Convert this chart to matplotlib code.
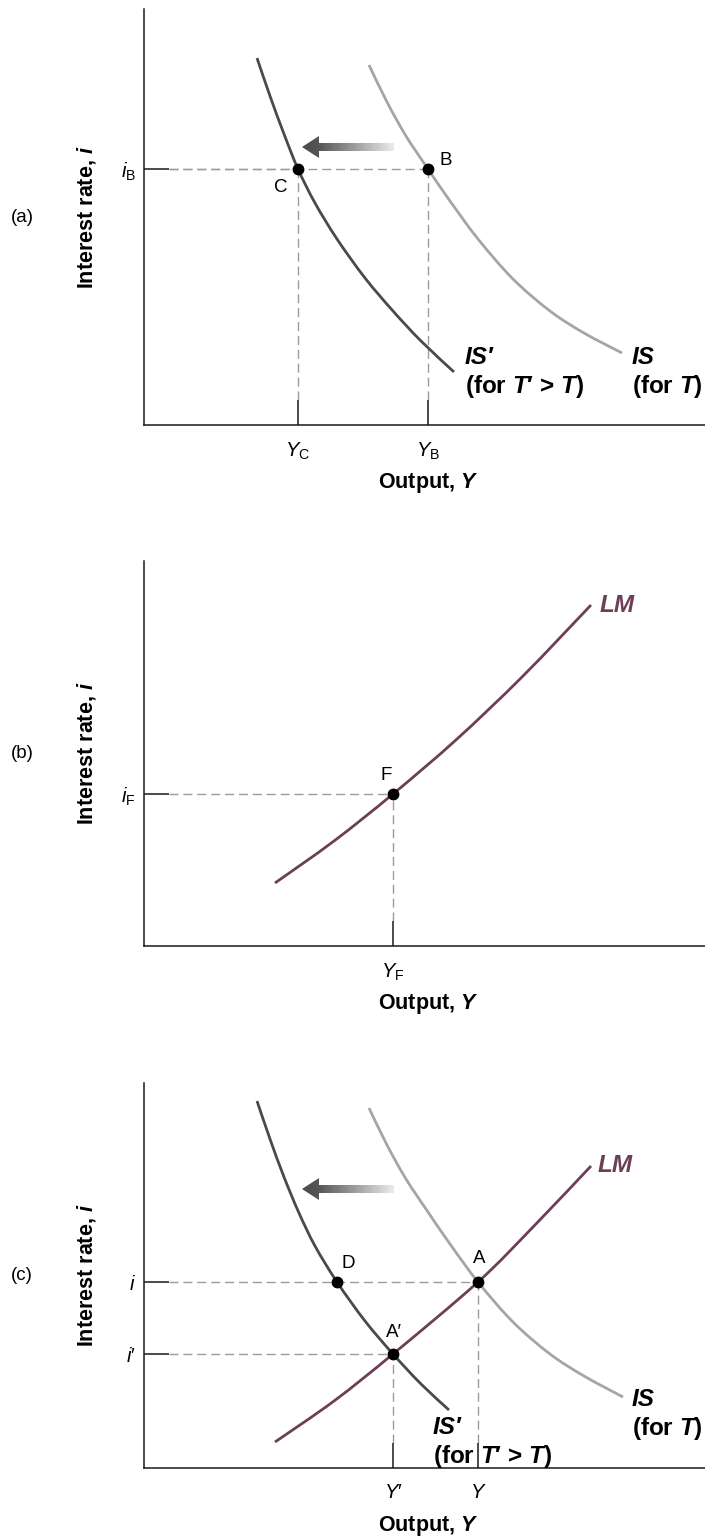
import matplotlib as mpl

mpl.use("Agg")
import matplotlib.pyplot as plt
import numpy as np
from matplotlib.colors import LinearSegmentedColormap
from matplotlib.patches import Polygon, PathPatch
from matplotlib.path import Path
from matplotlib.transforms import offset_copy

plt.rcParams["font.family"] = ["Liberation Sans", "DejaVu Sans"]
plt.rcParams["mathtext.fontset"] = "custom"
plt.rcParams["mathtext.rm"] = "Liberation Sans"
plt.rcParams["mathtext.it"] = "Liberation Sans:italic"
plt.rcParams["mathtext.bf"] = "Liberation Sans:bold"
plt.rcParams["mathtext.bfit"] = "Liberation Sans:bold:italic"

# ---- data (output Y, interest rate i) ----
# panel (a): IS shifts left
is_new_a_Y = [113, 126, 140, 154, 171, 193, 221, 249, 277, 310]
is_new_a_i = [367, 329, 291, 256, 222, 186, 147, 114, 84, 53]
is_old_a_Y = [225, 243, 262, 284, 306, 334, 369, 406, 440, 478]
is_old_a_i = [360, 323, 289, 256, 224, 186, 146, 114, 92, 72]
points_a = {"C": (154, 256), "B": (284, 256)}
xticks_a = [154, 284]
xticklabels_a = [r"$Y_{\mathrm{C}}$", r"$Y_{\mathrm{B}}$"]
yticks_a = [256]
yticklabels_a = [r"$i_{\mathrm{B}}$"]

# panel (b): LM curve
lm_b_Y = [131, 190, 249, 313, 379, 447]
lm_b_i = [63, 105, 152, 207, 270, 341]
points_b = {"F": (249, 152)}
xticks_b = [249]
xticklabels_b = [r"$Y_{\mathrm{F}}$"]
yticks_b = [152]
yticklabels_b = [r"$i_{\mathrm{F}}$"]

# panel (c): IS-LM after tax increase
is_new_c_Y = [113, 126, 140, 155, 171, 193, 221, 249, 277, 305]
is_new_c_i = [367, 329, 291, 255, 222, 186, 147, 114, 84, 58]
is_old_c_Y = [225, 243, 262, 284, 306, 334, 369, 406, 440, 479]
is_old_c_i = [360, 323, 289, 256, 224, 186, 146, 114, 92, 71]
lm_c_Y = [131, 190, 249, 334, 390, 447]
lm_c_i = [26, 67, 114, 186, 242, 302]
points_c = {"D": (193, 186), "A": (334, 186), "A\u2032": (249, 114)}
guides_c = ["A", "A\u2032"]
xticks_c = [249, 334]
xticklabels_c = ["$Y\u2032$", "$Y$"]
yticks_c = [186, 114]
yticklabels_c = ["$i$", "$i\u2032$"]

# ---- style ----
W, H = 705, 1539
AX_LEFT = 144
TICK = 25  # tick length in px (data units are px)
C_NEW = "#4a4a4a"
C_OLD = "#a5a5a5"
C_LM = "#6c3f56"
C_GUIDE = "#9c9c9c"
C_AXIS = "#1a1a1a"

arrow_cmap = LinearSegmentedColormap.from_list(
    "shift", [(0.0, "#4c4c4c"), (0.18, "#555555"), (1.0, "#ebebeb")]
)

fig = plt.figure(figsize=(W / 100, H / 100), dpi=100)


def make_axes(top, bottom, tag):
    ax = fig.add_axes(
        [AX_LEFT / W, (H - bottom) / H, (W - AX_LEFT) / W, (bottom - top) / H]
    )
    ax.set_xlim(0, W - AX_LEFT)
    ax.set_ylim(0, bottom - top)
    for s in ("top", "right"):
        ax.spines[s].set_visible(False)
    for s in ("left", "bottom"):
        ax.spines[s].set_linewidth(1.1)
        ax.spines[s].set_color(C_AXIS)
    ax.tick_params(direction="in", length=TICK * 0.72, width=1.1, color=C_AXIS,
                   labelsize=14.5)
    ax.tick_params(axis="x", pad=11)
    ax.tick_params(axis="y", pad=6)
    ax.patch.set_visible(False)

    ax.text(0, 0.5, "Interest rate, $\\mathbfit{i}$", rotation=90,
            fontsize=15.5, fontweight="bold", ha="center", va="center",
            transform=offset_copy(ax.transAxes, fig=fig, x=-57, y=0, units="dots"))
    ax.text(284, 0, "Output, $\\mathbfit{Y}$", fontsize=15.5, fontweight="bold",
            ha="center", va="center",
            transform=offset_copy(ax.get_xaxis_transform(), fig=fig, x=0, y=-58,
                                  units="dots"))
    ax.text(0, 0.5, tag, fontsize=13.5, ha="center", va="center",
            transform=offset_copy(ax.transAxes, fig=fig, x=-122, y=0, units="dots"))
    return ax


def set_ticks(ax, xt, xl, yt, yl):
    ax.set_xticks(xt, xl)
    ax.set_yticks(yt, yl)


def guides(ax, pts):
    for x, y in pts:
        ax.plot([TICK, x], [y, y], color=C_GUIDE, lw=1.0, dashes=(6.5, 3.5), zorder=1)
        ax.plot([x, x], [TICK, y], color=C_GUIDE, lw=1.0, dashes=(6.5, 3.5), zorder=1)


def smooth_curve(ax, xs, ys, color):
    # draw a smooth curve through the read points (cubic Bezier segments)
    pts = np.column_stack([xs, ys]).astype(float)
    verts, codes = [pts[0]], [Path.MOVETO]
    n = len(pts)
    for k in range(n - 1):
        p0 = pts[k - 1] if k > 0 else pts[k]
        p1, p2 = pts[k], pts[k + 1]
        p3 = pts[k + 2] if k + 2 < n else pts[k + 1]
        verts += [p1 + (p2 - p0) / 6, p2 - (p3 - p1) / 6, p2]
        codes += [Path.CURVE4] * 3
    ax.add_patch(PathPatch(Path(verts, codes), fill=False, edgecolor=color,
                           lw=2.0, capstyle="butt", zorder=2))


def dots(ax, pts, offsets):
    for (name, (x, y)), (dx, dy) in zip(pts.items(), offsets):
        ax.plot(x, y, "o", color="black", ms=7.5, zorder=5)
        ax.annotate(name, (x, y), xytext=(dx, dy), textcoords="offset points",
                    fontsize=13.5, ha="center", va="center")


def shift_arrow(ax, tail, tip, y):
    head_len, head_half, shaft_half = 17, 11, 4
    verts = [(tip, y), (tip + head_len, y + head_half), (tip + head_len, y + shaft_half),
             (tail, y + shaft_half), (tail, y - shaft_half),
             (tip + head_len, y - shaft_half), (tip + head_len, y - head_half)]
    poly = Polygon(verts, closed=True, facecolor="none", edgecolor="none")
    ax.add_patch(poly)
    xl, yl = ax.get_xlim(), ax.get_ylim()
    grad = np.linspace(0, 1, 256).reshape(1, -1)
    im = ax.imshow(grad, cmap=arrow_cmap, extent=[tip, tail, y - head_half, y + head_half],
                   aspect="auto", zorder=3, interpolation="bilinear")
    im.set_clip_path(poly)
    ax.set_xlim(xl)
    ax.set_ylim(yl)


def curve_label(ax, x, y, line1, line2, color="black"):
    ax.text(x, y, line1, fontsize=17.5, fontweight="bold", fontstyle="italic",
            ha="left", va="center", color=color)
    if line2:
        ax.text(x, y - 29, line2, fontsize=17.5, fontweight="bold", ha="left",
                va="center", color=color)


for_new = "(for $\\mathbfit{T}$\u2032 > $\\mathbfit{T}$)"
for_old = "(for $\\mathbfit{T}$)"

# ---- panel (a) ----
ax = make_axes(9, 425, "(a)")
set_ticks(ax, xticks_a, xticklabels_a, yticks_a, yticklabels_a)
guides(ax, points_a.values())
smooth_curve(ax, is_new_a_Y, is_new_a_i, C_NEW)
smooth_curve(ax, is_old_a_Y, is_old_a_i, C_OLD)
dots(ax, points_a, [(-12.5, -13.5), (12.5, 6)])
shift_arrow(ax, 250, 158, 278)
curve_label(ax, 321, 68, "IS\u2032", for_new)
curve_label(ax, 488, 68, "IS", for_old)

# ---- panel (b) ----
ax = make_axes(561, 946, "(b)")
set_ticks(ax, xticks_b, xticklabels_b, yticks_b, yticklabels_b)
guides(ax, points_b.values())
smooth_curve(ax, lm_b_Y, lm_b_i, C_LM)
dots(ax, points_b, [(-4.8, 13.5)])
curve_label(ax, 456, 340, "LM", None, color=C_LM)

# ---- panel (c) ----
ax = make_axes(1083, 1468, "(c)")
set_ticks(ax, xticks_c, xticklabels_c, yticks_c, yticklabels_c)
guides(ax, [points_c[k] for k in guides_c])
smooth_curve(ax, is_new_c_Y, is_new_c_i, C_NEW)
smooth_curve(ax, is_old_c_Y, is_old_c_i, C_OLD)
smooth_curve(ax, lm_c_Y, lm_c_i, C_LM)
dots(ax, points_c, [(8.4, 13.2), (1, 16.8), (1, 15.8)])
shift_arrow(ax, 250, 158, 279)
curve_label(ax, 289, 41, "IS\u2032", for_new)
curve_label(ax, 488, 68, "IS", for_old)
curve_label(ax, 454, 303, "LM", None, color=C_LM)

fig.savefig("out.png", dpi=100)
plt.close(fig)
